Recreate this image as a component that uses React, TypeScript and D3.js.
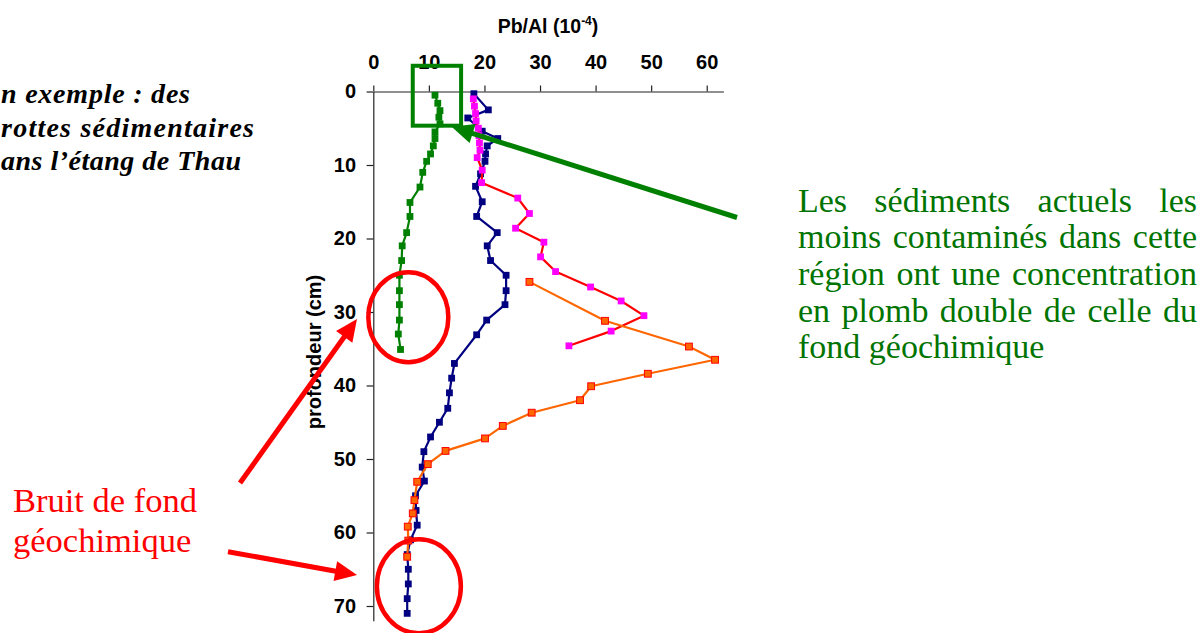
import { useEffect, useRef } from 'react';
import * as d3 from 'd3';

const W = 1202;
const H = 633;

// Core 1 (green) : depth (cm) and Pb/Al (1e-4)
const greenDepth = [0.5, 1.6, 2.6, 3.5, 4.4, 5.5, 6.4, 7.4, 8.5, 9.5, 11.0, 13.0, 15.1, 17.0, 19.2, 21.0, 23.0, 25.0, 27.1, 29.0, 31.1, 33.0, 35.1];
const greenPbAl = [11.1, 11.6, 12.0, 11.8, 12.0, 11.1, 11.1, 10.8, 10.3, 9.6, 8.9, 8.4, 6.6, 6.6, 6.0, 5.2, 5.1, 4.7, 4.7, 4.7, 4.7, 4.5, 4.9];

// Core 2 (navy)
const navyDepth = [0.3, 2.5, 3.6, 5.4, 6.4, 7.4, 8.5, 9.5, 11.2, 12.9, 15.0, 17.0, 19.2, 21.0, 23.0, 25.0, 27.1, 29.0, 31.1, 33.1, 37.0, 39.0, 41.0, 43.1, 45.0, 47.0, 49.0, 51.1, 53.0, 55.0, 57.0, 59.0, 61.0, 63.0, 65.0, 67.0, 69.0, 71.0];
const navyPbAl = [18.1, 20.7, 17.0, 19.6, 22.4, 20.5, 20.2, 20.1, 19.3, 18.4, 19.6, 18.6, 22.3, 20.5, 21.1, 23.9, 23.9, 23.7, 20.4, 18.6, 14.6, 14.1, 13.7, 13.4, 11.9, 10.3, 9.1, 8.8, 9.2, 7.6, 7.7, 7.9, 6.7, 6.1, 6.3, 6.3, 6.1, 6.1];

// Core 3 (magenta markers, red line)
const pinkDepth = [1.0, 2.0, 3.0, 4.0, 5.0, 6.0, 7.0, 8.0, 9.0, 10.7, 12.4, 14.5, 16.6, 18.6, 20.5, 22.5, 24.5, 26.6, 28.5, 30.5, 32.6, 34.6];
const pinkPbAl = [18.0, 18.2, 18.4, 18.5, 18.9, 19.0, 19.1, 19.2, 18.7, 19.6, 19.5, 26.0, 28.1, 25.6, 30.7, 30.1, 32.8, 39.1, 44.6, 48.7, 42.8, 35.2];

// Core 4 (orange)
const orangeDepth = [25.9, 31.2, 34.7, 36.5, 38.4, 40.1, 42.0, 43.7, 45.5, 47.2, 48.9, 50.7, 53.1, 55.6, 57.4, 59.2, 61.1, 63.3];
const orangePbAl = [28.1, 41.7, 56.8, 61.5, 49.4, 39.2, 37.2, 28.5, 23.3, 20.1, 13.0, 9.8, 7.9, 7.4, 7.1, 6.2, 6.3, 6.1];

const xTicks = [0, 10, 20, 30, 40, 50, 60];
const yTicks = [0, 10, 20, 30, 40, 50, 60, 70];

// the slide crops the start of these lines, only the visible part is kept
const introLines = ['n exemple : des', 'rottes sédimentaires', 'ans l’étang de Thau'];
const noteLines = [
  'Les sédiments actuels les',
  'moins contaminés dans cette',
  'région ont une concentration',
  'en plomb double de celle du',
  'fond géochimique',
];
const noiseLines = ['Bruit de fond', 'géochimique'];

export default function App() {
  const svgRef = useRef<SVGSVGElement>(null);

  useEffect(() => {
    if (!svgRef.current) return;
    const svg = d3.select(svgRef.current);
    svg.selectAll('*').remove();

    const left = 373.3;
    const top = 91.5;
    const x = d3.scaleLinear().domain([0, 63]).range([left, left + 63 * 5.557]);
    const y = d3.scaleLinear().domain([0, 72]).range([top, top + 72 * 7.35]);

    const sans = '"Liberation Sans", Arial, sans-serif';
    const serif = '"Liberation Serif", "Times New Roman", serif';
    const green = '#008000';
    const red = '#ff0000';

    svg.append('rect').attr('width', W).attr('height', H).attr('fill', '#ffffff');

    // axes
    const xAxis = svg.append('g')
      .attr('transform', `translate(0,${top})`)
      .call(d3.axisTop(x).tickValues(xTicks).tickSize(6).tickSizeOuter(0).tickPadding(17).tickFormat(d3.format('d')));
    const yAxis = svg.append('g')
      .attr('transform', `translate(${left},0)`)
      .call(d3.axisLeft(y).tickValues(yTicks).tickSize(6.7).tickSizeOuter(0).tickPadding(10.6).tickFormat(d3.format('d')));
    [xAxis, yAxis].forEach(a => {
      a.select('.domain').attr('stroke', '#222').attr('stroke-width', 1.2);
      a.selectAll('.tick line').attr('stroke', '#222').attr('stroke-width', 1.2);
      a.selectAll('.tick text')
        .attr('fill', '#000')
        .style('font-family', sans)
        .style('font-size', '20px')
        .style('font-weight', 'bold');
    });

    // axis titles
    const title = svg.append('text')
      .attr('x', 548)
      .attr('y', 33.3)
      .attr('text-anchor', 'middle')
      .style('font-family', sans)
      .style('font-size', '19.5px')
      .style('font-weight', 'bold');
    title.append('tspan').text('Pb/Al (10');
    title.append('tspan').attr('dy', -8).style('font-size', '12px').text('-4');
    title.append('tspan').attr('dy', 8).text(')');

    svg.append('text')
      .attr('transform', `translate(321,352) rotate(-90)`)
      .attr('text-anchor', 'middle')
      .style('font-family', sans)
      .style('font-size', '20px')
      .style('font-weight', 'bold')
      .text('profondeur (cm)');

    // series
    const series = [
      { depth: greenDepth, val: greenPbAl, line: '#008000', fill: '#008000', edge: '#008000' },
      { depth: navyDepth, val: navyPbAl, line: '#000080', fill: '#000080', edge: '#000080' },
      { depth: pinkDepth, val: pinkPbAl, line: '#ff0000', fill: '#ff00ff', edge: '#ff00ff' },
      { depth: orangeDepth, val: orangePbAl, line: '#ff6600', fill: '#ff6600', edge: '#ff0000' },
    ];
    const line = d3.line<[number, number]>().x(d => x(d[0])).y(d => y(d[1]));
    const ms = 6.8;
    series.forEach(s => {
      const pts: [number, number][] = s.val.map((v, i) => [v, s.depth[i]]);
      svg.append('path')
        .attr('d', line(pts))
        .attr('fill', 'none')
        .attr('stroke', s.line)
        .attr('stroke-width', 2.2)
        .attr('stroke-linejoin', 'round');
      svg.append('g').selectAll('rect')
        .data(pts)
        .enter().append('rect')
        .attr('x', d => x(d[0]) - ms / 2)
        .attr('y', d => y(d[1]) - ms / 2)
        .attr('width', ms)
        .attr('height', ms)
        .attr('fill', s.fill)
        .attr('stroke', s.edge)
        .attr('stroke-width', s.edge === s.fill ? 0 : 1);
    });

    // annotations
    const arrow = (x1: number, y1: number, x2: number, y2: number, color: string, w: number, hl: number, hw: number) => {
      const dx = x2 - x1, dy = y2 - y1;
      const len = Math.hypot(dx, dy);
      const ux = dx / len, uy = dy / len;
      const bx = x2 - ux * hl, by = y2 - uy * hl;
      svg.append('line')
        .attr('x1', x1).attr('y1', y1).attr('x2', bx + ux * 2).attr('y2', by + uy * 2)
        .attr('stroke', color).attr('stroke-width', w);
      svg.append('path')
        .attr('d', `M${x2},${y2}L${bx - uy * hw},${by + ux * hw}L${bx + uy * hw},${by - ux * hw}Z`)
        .attr('fill', color);
    };

    svg.append('rect')
      .attr('x', x(7.1)).attr('y', y(-3.5))
      .attr('width', x(15.8) - x(7.1)).attr('height', y(4.65) - y(-3.5))
      .attr('fill', 'none').attr('stroke', green).attr('stroke-width', 4);
    arrow(737, 217.5, x(14.1), y(4.8), green, 5, 22, 10);

    svg.append('ellipse')
      .attr('cx', x(6.3)).attr('cy', y(30.7)).attr('rx', 40).attr('ry', 45)
      .attr('fill', 'none').attr('stroke', red).attr('stroke-width', 4.5);
    svg.append('ellipse')
      .attr('cx', x(8.2)).attr('cy', y(67.3)).attr('rx', 42).attr('ry', 47)
      .attr('fill', 'none').attr('stroke', red).attr('stroke-width', 4.5);
    arrow(240, 483, 357, 319, red, 5, 22, 10);
    arrow(228, 551.7, 357, 575, red, 5, 22, 10);

    // texts
    const introRight = [190, 254, 241];
    const introBase = [103, 137, 170];
    introLines.forEach((t, i) => {
      svg.append('text')
        .attr('x', 1).attr('y', introBase[i])
        .attr('textLength', introRight[i] - 1)
        .attr('lengthAdjust', 'spacing')
        .style('font-family', serif)
        .style('font-size', '28px')
        .style('font-weight', 'bold')
        .style('font-style', 'italic')
        .text(t);
    });

    const noteX = 798, noteW = 399;
    const noteBase = [211.7, 248.2, 284.9, 321.6, 358.2];
    noteLines.forEach((t, i) => {
      const el = svg.append('text')
        .attr('x', noteX).attr('y', noteBase[i])
        .attr('fill', '#007400')
        .style('font-family', serif)
        .style('font-size', '34px')
        .text(t);
      if (i < noteLines.length - 1) {
        const node = el.node() as SVGTextElement;
        const gaps = t.split(' ').length - 1;
        const extra = (noteW - node.getComputedTextLength()) / gaps;
        el.attr('word-spacing', extra);
      }
    });

    const noiseBase = [511.7, 552.2];
    noiseLines.forEach((t, i) => {
      svg.append('text')
        .attr('x', 13).attr('y', noiseBase[i])
        .attr('fill', red)
        .style('font-family', serif)
        .style('font-size', '34.5px')
        .text(t);
    });
  }, []);

  return (
    <svg
      ref={svgRef}
      width={W}
      height={H}
      style={{ position: 'absolute', left: 0, top: 0, display: 'block' }}
    />
  );
}
